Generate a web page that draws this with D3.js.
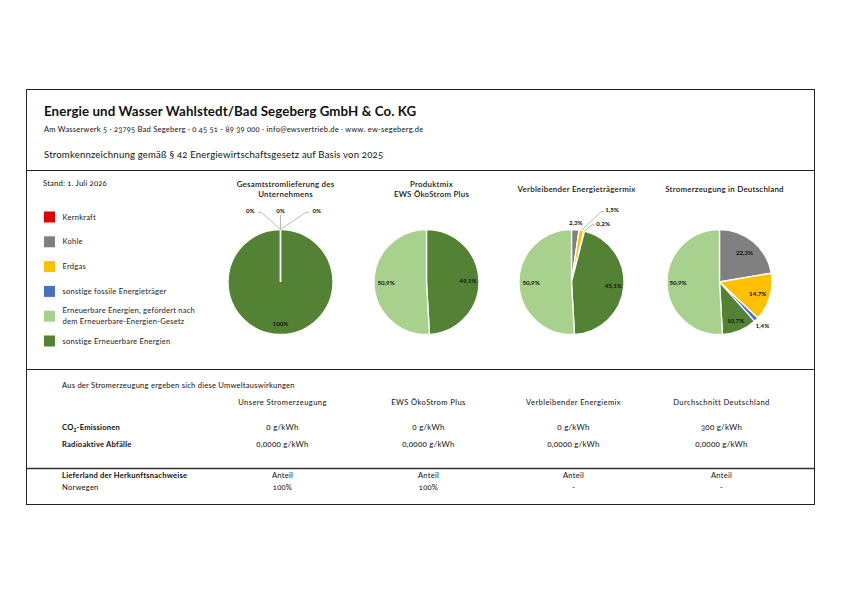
<!DOCTYPE html>
<html>
<head>
<meta charset="utf-8">
<script src="https://cdn.jsdelivr.net/npm/d3@7"></script>
<style>
  body { margin: 0; background: #fff; }
  svg { font-family: Lato, 'Open Sans', sans-serif; }
  .onum { font-variant-numeric: oldstyle-nums; }
</style>
</head>
<body>
<svg id="chart"></svg>
<script>
// ---- data ----
const categories = [
  'Kernkraft',
  'Kohle',
  'Erdgas',
  'sonstige fossile Energieträger',
  'sonstige Erneuerbare Energien',
  'Erneuerbare Energien, gefördert nach dem Erneuerbare-Energien-Gesetz',
]
const legendOrder = [0, 1, 2, 3, 5, 4]
const legendLabels = [
  ['Kernkraft'],
  ['Kohle'],
  ['Erdgas'],
  ['sonstige fossile Energieträger'],
  ['sonstige Erneuerbare Energien'],
  ['Erneuerbare Energien, gefördert nach', 'dem Erneuerbare-Energien-Gesetz'],
]
const colors = ['#e00000', '#808080', '#ffc000', '#4472c4', '#548235', '#a9d18e']

const chartTitles = [
  ['Gesamtstromlieferung des', 'Unternehmens'],
  ['Produktmix', 'EWS ÖkoStrom Plus'],
  ['Verbleibender Energieträgermix'],
  ['Stromerzeugung in Deutschland'],
]
// null = not shown in chart
const gesamtValues = [0, 0, 0, null, 100, null]
const produktValues = [null, null, null, null, 49.1, 50.9]
const verbleibendValues = [null, 2.3, 1.5, 0.2, 45.1, 50.9]
const deutschlandValues = [null, 22.3, 14.7, 1.4, 10.7, 50.9]

const columnHeads = ['Unsere Stromerzeugung', 'EWS ÖkoStrom Plus', 'Verbleibender Energiemix', 'Durchschnitt Deutschland']
const co2Values = ['0 g/kWh', '0 g/kWh', '0 g/kWh', '300 g/kWh']
const wasteValues = ['0,0000 g/kWh', '0,0000 g/kWh', '0,0000 g/kWh', '0,0000 g/kWh']
const originCountry = 'Norwegen'
const originShares = ['100%', '100%', '-', '-']

// ---- layout ----
const width = 842
const height = 595
const small = 7.6 // body text size
const spacing = 0.22

const svg = d3.select('#chart').attr('width', width).attr('height', height)

const box = { x: 26.5, y: 89.5, w: 788, h: 415 }
const sep1 = 170.5
const sep2 = 369.5
const sep3 = 468.5

svg.append('rect')
  .attr('x', box.x).attr('y', box.y).attr('width', box.w).attr('height', box.h)
  .attr('fill', 'none').attr('stroke', '#222').attr('stroke-width', 1)
;[sep1, sep2].forEach((y) => {
  svg.append('line').attr('x1', box.x).attr('x2', box.x + box.w)
    .attr('y1', y).attr('y2', y).attr('stroke', '#222').attr('stroke-width', 1)
})
svg.append('line').attr('x1', box.x).attr('x2', box.x + box.w)
  .attr('y1', sep3).attr('y2', sep3).attr('stroke', '#333').attr('stroke-width', 1.3)

// helper for plain text
const txt = (x, y, t, opts = {}) =>
  svg.append('text')
    .attr('class', opts.onum ? 'onum' : null)
    .attr('x', x).attr('y', y)
    .attr('text-anchor', opts.anchor || 'start')
    .attr('font-size', opts.size || small)
    .attr('font-weight', opts.bold ? 700 : 400)
    .attr('letter-spacing', opts.ls === undefined ? spacing : opts.ls)
    .attr('fill', '#111')
    .text(t)

// header
txt(44, 116, 'Energie und Wasser Wahlstedt/Bad Segeberg GmbH & Co. KG', { size: 13.3, bold: true, ls: 0.1 })
txt(44, 132, 'Am Wasserwerk 5 · 23795 Bad Segeberg · 0 45 51 - 89 39 000 · info@ewsvertrieb.de · www. ew-segeberg.de', { onum: true, size: 7.5, ls: 0.25 })
txt(44, 158, 'Stromkennzeichnung gemäß § 42 Energiewirtschaftsgesetz auf Basis von 2025', { onum: true, size: 9.6, ls: 0.17 })

// legend
txt(43, 186, 'Stand: 1. Juli 2026', { onum: true })

const legendY = d3.scalePoint().domain(legendOrder).range([217, 341])
legendOrder.forEach((ci) => {
  const g = svg.append('g').attr('transform', `translate(44,${legendY(ci)})`)
  g.append('rect').attr('x', 0).attr('y', -5.5).attr('width', 11).attr('height', 11)
    .attr('fill', colors[ci])
  const lines = legendLabels[ci]
  lines.forEach((t, k) => {
    g.append('text').attr('x', 18.5)
      .attr('y', 2.5 + (k - (lines.length - 1) / 2) * 11)
      .attr('font-size', small).attr('letter-spacing', spacing).attr('fill', '#222').text(t)
  })
})

// ---- pies ----
const pieCenters = [280.5, 426.5, 571.5, 719.5]
const pieCy = 282
const radius = 52.5
const fmt = d3.formatLocale({ decimal: ',', thousands: '.', grouping: [3], currency: ['', '€'] })
const fmtPct = (v) => (Number.isInteger(v) ? fmt.format('d')(v) : fmt.format('.1f')(v)) + '%'

// label placement per slice: r = radius factor at slice centre,
// lead = [angle in deg, radius factor] for labels with leader lines
const labelPlacement = [
  [{ lead: [-23, 1.47] }, { lead: [0, 1.35] }, { lead: [27, 1.52] }, null, { r: 0.8 }, null],
  [null, null, null, null, { r: 0.79 }, { r: 0.77 }],
  [null, { r: 1.13 }, { lead: [29.5, 1.57] }, { lead: [28.3, 1.27] }, { r: 0.8 }, { r: 0.77 }],
  [null, { r: 0.74 }, { r: 0.76 }, { r: 1.17 }, { r: 0.8 }, { r: 0.79 }],
]

const pie = d3.pie().sort(null).value((d) => d.value)
const arc = d3.arc().innerRadius(0).outerRadius(radius)

const allValues = [gesamtValues, produktValues, verbleibendValues, deutschlandValues]

allValues.forEach((values, pi) => {
  const cx = pieCenters[pi]
  const data = values
    .map((v, i) => ({ cat: i, value: v }))
    .filter((d) => d.value !== null)
  const arcs = pie(data)

  const g = svg.append('g').attr('transform', `translate(${cx},${pieCy})`)

  // title
  const tl = chartTitles[pi]
  tl.forEach((t, k) => {
    g.append('text').attr('x', 5)
      .attr('y', (tl.length === 1 ? -90.5 : -95.5 + k * 10))
      .attr('text-anchor', 'middle').attr('font-size', 7.9).attr('font-weight', 600)
      .attr('letter-spacing', 0.25)
      .attr('fill', '#111').text(t)
  })

  // zero-width slices drawn last so their white edges stay visible
  const drawOrder = arcs.slice().sort((a, b) => (b.value > 0) - (a.value > 0))
  g.selectAll('path.slice')
    .data(drawOrder)
    .join('path')
    .attr('class', 'slice')
    .attr('d', arc)
    .attr('fill', (d) => colors[d.data.cat])
    .attr('stroke', '#fff')
    .attr('stroke-width', 1.3)

  arcs.forEach((d) => {
    const place = labelPlacement[pi][d.data.cat]
    if (!place) return
    const mid = (d.startAngle + d.endAngle) / 2
    let x, y
    if (place.lead) {
      const a = (place.lead[0] * Math.PI) / 180
      x = Math.sin(a) * radius * place.lead[1]
      y = -Math.cos(a) * radius * place.lead[1]
      const ax = Math.sin(mid) * radius
      const ay = -Math.cos(mid) * radius
      let pts
      if (Math.abs(x - ax) < 4) {
        pts = [[x, y + 4], [ax, ay]]
      } else {
        const s = x > ax ? 1 : -1
        pts = [[x - s * 8, y + 1.5], [x - s * 11, y + 1.5], [ax, ay]]
      }
      g.append('polyline')
        .attr('points', pts.join(' '))
        .attr('fill', 'none').attr('stroke', '#a6a6a6').attr('stroke-width', 0.8)
    } else {
      x = Math.sin(mid) * radius * place.r
      y = -Math.cos(mid) * radius * place.r
    }
    g.append('text').attr('x', x).attr('y', y + 2.2)
      .attr('text-anchor', 'middle').attr('font-size', 6.2).attr('font-weight', 700)
      .attr('fill', '#111').text(fmtPct(d.data.value))
  })
})

// ---- bottom table ----
const colX = pieCenters.map((c) => c + 2)
txt(62, 388, 'Aus der Stromerzeugung ergeben sich diese Umweltauswirkungen')

columnHeads.forEach((t, i) => txt(colX[i], 404.5, t, { anchor: 'middle', ls: 0.4 }))

const co2 = svg.append('text').attr('x', 62).attr('y', 430)
  .attr('font-size', small).attr('font-weight', 700).attr('letter-spacing', spacing).attr('fill', '#111')
co2.append('tspan').text('CO')
co2.append('tspan').attr('font-size', 5).attr('dy', 1.5).text('2')
co2.append('tspan').attr('dy', -1.5).text('-Emissionen')
txt(62, 446.5, 'Radioaktive Abfälle', { bold: true })

co2Values.forEach((t, i) => txt(colX[i], 430, t, { anchor: 'middle', onum: true, size: 8 }))
wasteValues.forEach((t, i) => txt(colX[i], 446.5, t, { anchor: 'middle', onum: true, size: 8 }))

txt(62, 477.5, 'Lieferland der Herkunftsnachweise', { bold: true })
txt(62, 490, originCountry)
columnHeads.forEach((t, i) => txt(colX[i], 477.5, 'Anteil', { anchor: 'middle' }))
originShares.forEach((t, i) => txt(colX[i], 490, t, { anchor: 'middle', onum: true }))
</script>
</body>
</html>
